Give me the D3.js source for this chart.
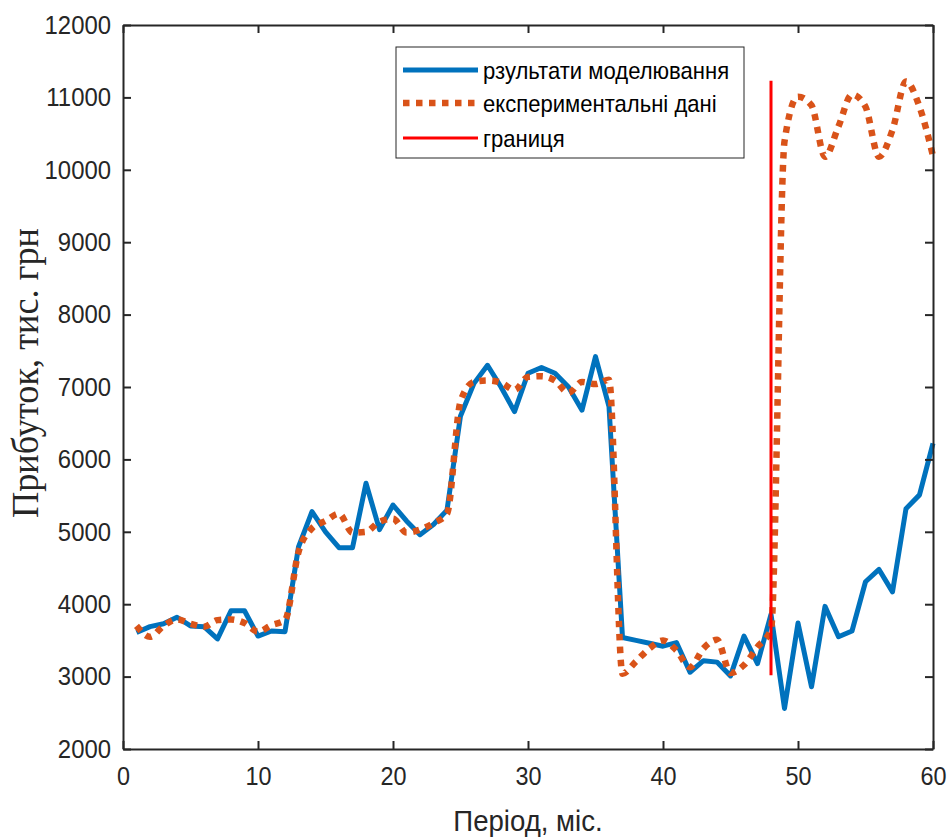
<!DOCTYPE html>
<head>
    <meta charset="utf-8">
    <script src="https://d3js.org/d3.v7.min.js"></script>
    <style>
        body { margin: 0; background: #fff; }
        .axis text { font-family: "Liberation Sans", Arial, sans-serif; font-size: 26px; fill: #262626; }
        .axis path, .axis line { stroke: #262626; stroke-width: 2; }
        .legend text { font-family: "Liberation Sans", Arial, sans-serif; font-size: 24px; fill: #000; }
    </style>
</head>
<body>
    <div id="chart-container"></div>
</body>

<script>
    // months on x axis
    var months = [1, 2, 3, 4, 5, 6, 7, 8, 9, 10, 11, 12, 13, 14, 15, 16, 17, 18, 19, 20,
                  21, 22, 23, 24, 25, 26, 27, 28, 29, 30, 31, 32, 33, 34, 35, 36, 37, 38, 39, 40,
                  41, 42, 43, 44, 45, 46, 47, 48, 49, 50, 51, 52, 53, 54, 55, 56, 57, 58, 59, 60];

    // результати моделювання
    var modelValues = [3610, 3690, 3730, 3820, 3700, 3690, 3520, 3910, 3910, 3560,
                       3630, 3620, 4790, 5280, 5000, 4780, 4780, 5670, 5030, 5370,
                       5150, 4960, 5100, 5300, 6600, 7050, 7300, 7000, 6660, 7190,
                       7270, 7190, 7000, 6680, 7420, 6730, 3540, 3500, 3460, 3420,
                       3470, 3060, 3220, 3200, 3010, 3560, 3180, 3860, 2560, 3740,
                       2860, 3970, 3550, 3630, 4310, 4480, 4170, 5320, 5510, 6220];

    // експериментальні дані
    var expValues = [3700, 3550, 3700, 3790, 3730, 3690, 3780, 3790, 3740, 3620,
                     3710, 3780, 4720, 5050, 5150, 5250, 4990, 5000, 5140, 5180,
                     4990, 5030, 5120, 5250, 6800, 7070, 7090, 7060, 6960, 7140,
                     7150, 7090, 6920, 7070, 7040, 7100, 3040, 3210, 3390, 3500,
                     3360, 3130, 3390, 3510, 3050, 3160, 3410, 3650, 10390, 11010,
                     10890, 10180, 10600, 11040, 10870, 10180, 10550, 11220, 10870, 10190];

    // границя
    var boundaryX = [48, 48];
    var boundaryY = [3020, 11230];

    var xTicks = [0, 10, 20, 30, 40, 50, 60];
    var yTicks = [2000, 3000, 4000, 5000, 6000, 7000, 8000, 9000, 10000, 11000, 12000];
    var legendLabels = ["рзультати моделювання", "експериментальні дані", "границя"];

    var margin = { top: 25, right: 15, bottom: 88, left: 123 };
    var width = 948 - margin.left - margin.right;
    var height = 837 - margin.top - margin.bottom;

    var svgRoot = d3.select("#chart-container").append("svg")
        .attr("width", 948)
        .attr("height", 837);
    var svg = svgRoot.append("g")
        .attr("transform", "translate(" + margin.left + "," + margin.top + ")");

    var x = d3.scaleLinear().domain([0, 60]).range([0, width]);
    var y = d3.scaleLinear().domain([2000, 12000]).range([height, 0]);

    var line = d3.line()
        .x(function(d) { return x(d[0]); })
        .y(function(d) { return y(d[1]); });

    var modelData = months.map(function(m, i) { return [m, modelValues[i]]; });
    var expData = months.map(function(m, i) { return [m, expValues[i]]; });
    var boundaryData = boundaryX.map(function(v, i) { return [v, boundaryY[i]]; });

    // lines
    svg.append("path")
        .datum(modelData)
        .attr("d", line)
        .attr("fill", "none")
        .attr("stroke", "#0072BD")
        .attr("stroke-width", 5)
        .attr("stroke-linejoin", "round");

    svg.append("path")
        .datum(expData)
        .attr("d", line.curve(d3.curveMonotoneX))
        .attr("fill", "none")
        .attr("stroke", "#D95319")
        .attr("stroke-width", 6.5)
        .attr("stroke-dasharray", "6.5,6.5");
    line.curve(d3.curveLinear);

    svg.append("path")
        .datum(boundaryData)
        .attr("d", line)
        .attr("fill", "none")
        .attr("stroke", "#FF0000")
        .attr("stroke-width", 3);

    // axes (ticks pointing inward, box on)
    var fmt = d3.format("d");
    var gx = svg.append("g").attr("class", "axis")
        .attr("transform", "translate(0," + height + ")")
        .call(d3.axisBottom(x).tickValues(xTicks).tickFormat(fmt).tickSize(-8).tickSizeOuter(0).tickPadding(18));
    gx.selectAll("text").attr("transform", "scale(0.9,1)");

    var gy = svg.append("g").attr("class", "axis")
        .call(d3.axisLeft(y).tickValues(yTicks).tickFormat(fmt).tickSize(-8).tickSizeOuter(0).tickPadding(13));
    gy.selectAll("text").attr("transform", "scale(0.92,1)");

    svg.append("g").attr("class", "axis")
        .call(d3.axisTop(x).tickValues(xTicks).tickSize(-8).tickSizeOuter(0).tickFormat(""));
    svg.append("g").attr("class", "axis")
        .attr("transform", "translate(" + width + ",0)")
        .call(d3.axisRight(y).tickValues(yTicks).tickSize(-8).tickSizeOuter(0).tickFormat(""));

    // axis titles
    svgRoot.append("text")
        .attr("transform", "translate(528,831) scale(0.92,1)")
        .attr("text-anchor", "middle")
        .style("font-family", "'Liberation Sans', Arial, sans-serif")
        .style("font-size", "30px")
        .style("fill", "#262626")
        .text("Період, міс.");

    svgRoot.append("text")
        .attr("transform", "translate(38,373) rotate(-90) scale(0.98,1)")
        .attr("text-anchor", "middle")
        .style("font-family", "'Liberation Serif', 'Times New Roman', serif")
        .style("font-size", "37px")
        .style("fill", "#262626")
        .text("Прибуток, тис. грн");

    // legend
    var legend = svgRoot.append("g").attr("class", "legend");
    legend.append("rect")
        .attr("x", 396).attr("y", 47)
        .attr("width", 348).attr("height", 111)
        .attr("fill", "#fff")
        .attr("stroke", "#262626")
        .attr("stroke-width", 1);

    var legendStyles = [
        { color: "#0072BD", w: 5, dash: null },
        { color: "#D95319", w: 6.5, dash: "6.5,6.5" },
        { color: "#FF0000", w: 3, dash: null }
    ];
    var rowY = [70, 103, 138];

    legendLabels.forEach(function(label, i) {
        var s = legendStyles[i];
        var l = legend.append("line")
            .attr("x1", 403).attr("x2", 478)
            .attr("y1", rowY[i]).attr("y2", rowY[i])
            .attr("stroke", s.color)
            .attr("stroke-width", s.w);
        if (s.dash) l.attr("stroke-dasharray", s.dash);
        legend.append("text")
            .attr("transform", "translate(483," + (rowY[i] + 9) + ") scale(0.92,1)")
            .text(label);
    });
</script>
